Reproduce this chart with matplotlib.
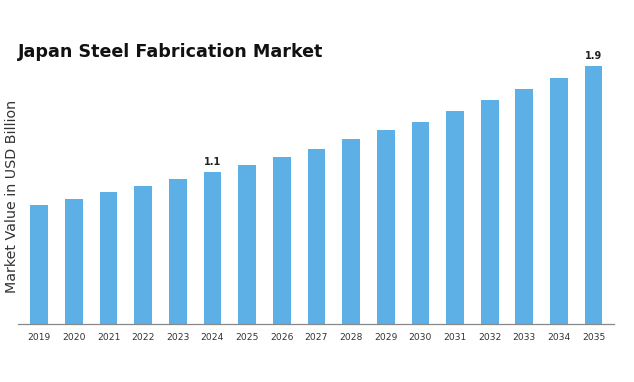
import numpy as np
import matplotlib.pyplot as plt

# market size by year, USD billion
years = ['2019', '2020', '2021', '2022', '2023', '2024', '2025', '2026', '2027',
         '2028', '2029', '2030', '2031', '2032', '2033', '2034', '2035']
values = [0.88, 0.92, 0.97, 1.02, 1.07, 1.12, 1.17, 1.23, 1.29,
          1.36, 1.43, 1.49, 1.57, 1.65, 1.73, 1.81, 1.90]
# only these bars get a value label
labelled = {'2024': '1.1', '2035': '1.9'}

bar_color = '#5cb0e5'

fig = plt.figure(figsize=(6.34, 3.82), dpi=100)
ax = fig.add_axes([0.028, 0.151, 0.94, 0.73])

x = np.arange(len(years))
ax.bar(x, values, width=0.51, color=bar_color)

for i, yr in enumerate(years):
    if yr in labelled:
        ax.text(x[i], values[i] + 0.035, labelled[yr], ha='center', va='bottom',
                fontsize=7, fontweight='bold', color='#222222')

ax.set_xlim(-0.62, 16.58)
ax.set_ylim(0, 2.05)
ax.set_xticks(x)
ax.set_xticklabels(years, fontsize=6.6, color='#333333')
ax.tick_params(axis='x', length=0, pad=6)
ax.set_yticks([])

for side in ['top', 'right', 'left']:
    ax.spines[side].set_visible(False)
ax.spines['bottom'].set_color('#888888')
ax.spines['bottom'].set_linewidth(0.9)

fig.text(0.028, 0.864, 'Japan Steel Fabrication Market', fontsize=12.6,
         fontweight='bold', ha='left', va='center', color='#111111')
fig.text(0.019, 0.487, 'Market Value in USD Billion', rotation=90, fontsize=10.3,
         ha='center', va='center', color='#333333')

fig.savefig('out.png', dpi=100)
